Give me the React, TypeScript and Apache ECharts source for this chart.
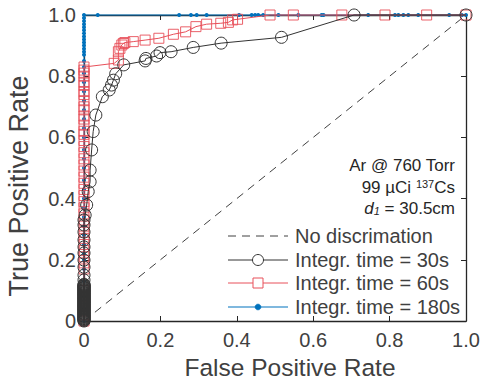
import React, { useEffect, useRef } from "react";
import * as echarts from "echarts";

// Diagonal reference
const noDiscX = [0, 1];
const noDiscY = [0, 1];

// Integr. time = 30s
const tpr30AtZero = [0, 0.002, 0.004, 0.006, 0.008, 0.01, 0.012, 0.014, 0.016, 0.018, 0.02, 0.022, 0.024, 0.026, 0.028, 0.03, 0.032, 0.034, 0.036, 0.038, 0.04, 0.042, 0.044, 0.046, 0.048, 0.05, 0.052, 0.054, 0.056, 0.058, 0.06, 0.062, 0.064, 0.066, 0.068, 0.07, 0.072, 0.074, 0.076, 0.078, 0.08, 0.082, 0.084, 0.086, 0.088, 0.09, 0.092, 0.094, 0.096, 0.098, 0.1, 0.102, 0.104, 0.106, 0.108, 0.11, 0.112, 0.114, 0.116, 0.118, 0.12, 0.134, 0.15, 0.176, 0.199, 0.222, 0.242, 0.265, 0.291, 0.314, 0.33];
const fpr30 = [0.003, 0.007, 0.011, 0.016, 0.016, 0.02, 0.024, 0.031, 0.048, 0.066, 0.072, 0.077, 0.083, 0.104, 0.16, 0.162, 0.19, 0.199, 0.228, 0.286, 0.359, 0.517, 0.707, 1.0];
const tpr30 = [0.346, 0.379, 0.423, 0.455, 0.493, 0.559, 0.619, 0.673, 0.733, 0.755, 0.771, 0.787, 0.808, 0.837, 0.85, 0.858, 0.866, 0.877, 0.88, 0.894, 0.908, 0.927, 1.0, 1.0];

// Integr. time = 60s
const tpr60AtZero = [0, 0.02, 0.05, 0.08, 0.1, 0.17, 0.19, 0.21, 0.23, 0.25, 0.27, 0.29, 0.31, 0.33, 0.35, 0.37, 0.39, 0.41, 0.43, 0.45, 0.47, 0.49, 0.51, 0.53, 0.55, 0.57, 0.59, 0.61, 0.62, 0.64, 0.66, 0.67, 0.69, 0.7, 0.72, 0.74, 0.75, 0.77, 0.78, 0.8, 0.81, 0.82, 0.83];
const fpr60 = [0.079, 0.09, 0.09, 0.094, 0.099, 0.103, 0.107, 0.129, 0.16, 0.196, 0.234, 0.266, 0.293, 0.321, 0.358, 0.378, 0.389, 0.402, 0.487, 0.548, 0.675, 0.788, 0.897, 1.0];
const tpr60 = [0.842, 0.853, 0.88, 0.891, 0.902, 0.907, 0.91, 0.913, 0.918, 0.924, 0.937, 0.945, 0.962, 0.97, 0.973, 0.976, 0.984, 0.986, 1, 1, 1, 1, 1, 1];

// Integr. time = 180s
const tpr180AtZero = [0, 0.04, 0.08, 0.13, 0.17, 0.2, 0.22, 0.25, 0.28, 0.31, 0.34, 0.37, 0.4, 0.43, 0.46, 0.5, 0.53, 0.56, 0.6, 0.63, 0.66, 0.69, 0.72, 0.75, 0.78, 0.81, 0.83, 0.85, 0.87, 0.88, 0.89, 0.9, 0.91, 0.92, 0.93, 0.94, 0.95, 0.96, 0.97, 0.98, 0.99, 1.0];
const fpr180AtOne = [0.036, 0.249, 0.28, 0.295, 0.321, 0.406, 0.439, 0.448, 0.456, 0.469, 0.509, 0.561, 0.622, 0.627, 0.744, 0.814, 0.823, 0.836, 0.849, 0.875, 0.956, 0.989, 1.0];

const seriesNames = ["No discrimation", "Integr. time = 30s", "Integr. time = 60s", "Integr. time = 180s"];

const FONT = "'Liberation Sans', Arial, Helvetica, sans-serif";
const TXT = "#404040";
const AX = "#262626";
const BLACK = "#333333";
const RED = "#e8505a";
const BLUE = "#0072BD";
const DASH = "#404040";

function pairs(xs: number[], ys: number[]) {
  return xs.map((x, i) => [x, ys[i]]);
}

export default function App() {
  const ref = useRef<HTMLDivElement>(null);
  useEffect(() => {
    if (!ref.current) return;
    const chart = echarts.init(ref.current, undefined, { renderer: "svg" });
    const fmt = (v: number) => (v === 0 ? "0" : v.toFixed(1));
    const data30 = [...tpr30AtZero.map((y) => [0, y]), ...pairs(fpr30, tpr30)];
    const data60 = [...tpr60AtZero.map((y) => [0, y]), ...pairs(fpr60, tpr60)];
    const data180 = [...tpr180AtZero.map((y) => [0, y]), ...fpr180AtOne.map((x) => [x, 1])];
    const baseAxis = {
      type: "value",
      min: 0,
      max: 1,
      interval: 0.2,
      splitLine: { show: false },
      axisLine: { show: true, onZero: false, lineStyle: { color: AX, width: 1.3 } },
      axisTick: { show: true, inside: true, length: 5, lineStyle: { color: AX, width: 1 } },
    };

    // manual legend
    const lgX0 = 228;
    const lgX1 = 288;
    const lgMid = 258;
    const lgText = 295;
    const rows = [236, 260, 283, 307];
    const legendEls: any[] = [];
    const lineStyles = [
      { stroke: DASH, lineWidth: 1, lineDash: [8, 6] },
      { stroke: BLACK, lineWidth: 1 },
      { stroke: RED, lineWidth: 1 },
      { stroke: BLUE, lineWidth: 1.2 },
    ];
    rows.forEach((y, i) => {
      legendEls.push({ type: "line", shape: { x1: lgX0, y1: y, x2: lgX1, y2: y }, style: lineStyles[i], z: 10 });
      legendEls.push({
        type: "text",
        x: lgText,
        y: y,
        style: { text: seriesNames[i], fontSize: 20, fontFamily: FONT, fill: TXT, align: "left", verticalAlign: "middle" },
        z: 10,
      });
    });
    legendEls.push({ type: "circle", shape: { cx: lgMid, cy: rows[1], r: 5.5 }, style: { fill: "#fff", stroke: BLACK, lineWidth: 1 }, z: 11 });
    legendEls.push({ type: "rect", shape: { x: lgMid - 5, y: rows[2] - 5, width: 10, height: 10 }, style: { fill: "#fff", stroke: RED, lineWidth: 1 }, z: 11 });
    legendEls.push({ type: "circle", shape: { cx: lgMid, cy: rows[3], r: 3 }, style: { fill: BLUE, stroke: BLUE, lineWidth: 0.5 }, z: 11 });

    chart.setOption({
      animation: false,
      backgroundColor: "#ffffff",
      textStyle: { fontFamily: FONT },
      grid: { left: 84, top: 15, right: 16, bottom: 60, containLabel: false, outerBoundsMode: "none" },
      xAxis: [
        {
          ...baseAxis,
          position: "bottom",
          name: "False Positive Rate",
          nameLocation: "middle",
          nameGap: 29,
          nameTextStyle: { fontSize: 24.5, color: TXT, fontFamily: FONT, padding: [0, 0, 0, 30] },
          axisLabel: { formatter: fmt, fontSize: 20, color: TXT, margin: 9, fontFamily: FONT },
        },
        { ...baseAxis, position: "top", axisLabel: { show: false } },
      ],
      yAxis: [
        {
          ...baseAxis,
          position: "left",
          name: "True Positive Rate",
          nameLocation: "middle",
          nameGap: 52,
          nameTextStyle: { fontSize: 27, color: TXT, fontFamily: FONT, padding: [0, 36, 0, 0] },
          axisLabel: { formatter: fmt, fontSize: 20, color: TXT, margin: 8, fontFamily: FONT },
        },
        { ...baseAxis, position: "right", axisLabel: { show: false } },
      ],
      series: [
        {
          name: seriesNames[0],
          type: "line",
          data: pairs(noDiscX, noDiscY),
          symbol: "none",
          lineStyle: { color: DASH, width: 1, type: [8, 6] },
          itemStyle: { color: DASH },
          z: 1,
          clip: false,
        },
        {
          name: seriesNames[3],
          type: "line",
          data: data180,
          symbol: "circle",
          symbolSize: 4,
          lineStyle: { color: BLUE, width: 1 },
          itemStyle: { color: BLUE },
          z: 2,
          clip: false,
        },
        {
          name: seriesNames[2],
          type: "line",
          data: data60,
          symbol: "rect",
          symbolSize: 10,
          lineStyle: { color: RED, width: 1 },
          itemStyle: { color: "rgba(0,0,0,0)", borderColor: RED, borderWidth: 1, opacity: 0.9 },
          z: 3,
          clip: false,
        },
        {
          name: seriesNames[1],
          type: "line",
          data: data30,
          symbol: "circle",
          symbolSize: 12,
          lineStyle: { color: BLACK, width: 1 },
          itemStyle: { color: "rgba(0,0,0,0)", borderColor: BLACK, borderWidth: 1 },
          z: 4,
          clip: false,
        },
      ],
      graphic: [
        ...legendEls,
        {
          type: "text",
          x: 455,
          y: 165,
          style: { text: "Ar @ 760 Torr", fontSize: 17, fontFamily: FONT, fill: "#262626", align: "right", verticalAlign: "middle" },
        },
        {
          type: "text",
          x: 455,
          y: 187,
          style: {
            text: "99 µCi {sup|137}Cs",
            fontSize: 17,
            fontFamily: FONT,
            fill: "#262626",
            align: "right",
            verticalAlign: "middle",
            rich: { sup: { fontSize: 11, fontFamily: FONT, fill: "#262626", verticalAlign: "top", lineHeight: 12 } },
          },
        },
        {
          type: "text",
          x: 455,
          y: 208,
          style: {
            text: "{it|d}{sub|1} = 30.5cm",
            fontSize: 17,
            fontFamily: FONT,
            fill: "#262626",
            align: "right",
            verticalAlign: "middle",
            rich: {
              it: { fontSize: 17, fontStyle: "italic", fontFamily: FONT, fill: "#262626" },
              sub: { fontSize: 11, fontStyle: "italic", fontFamily: FONT, fill: "#262626", verticalAlign: "bottom", lineHeight: 8 },
            },
          },
        },
      ],
    });
    return () => chart.dispose();
  }, []);
  return <div ref={ref} style={{ position: "absolute", left: 0, top: 0, width: 482, height: 381 }} />;
}
